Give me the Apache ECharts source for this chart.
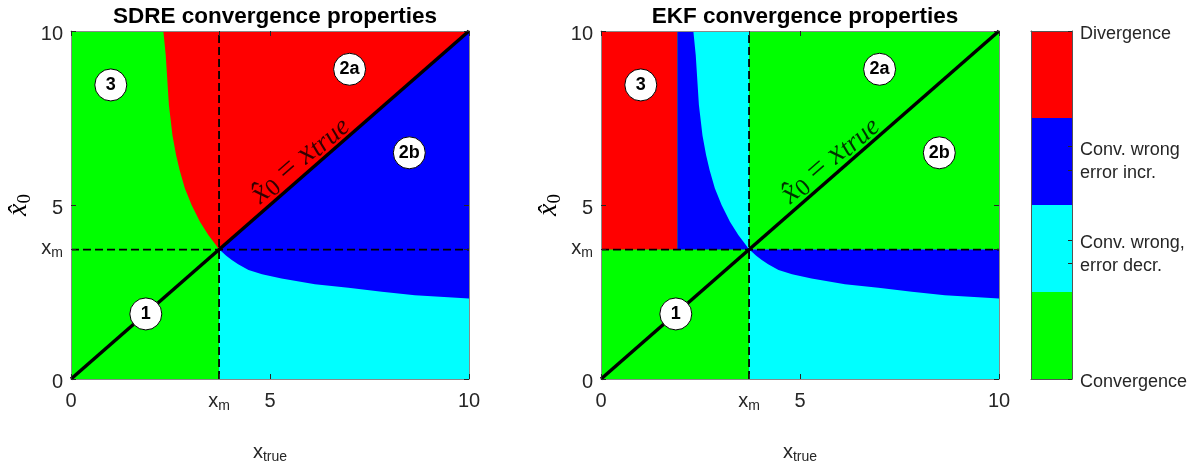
<!DOCTYPE html>
<html>
<head>
<meta charset="utf-8">
<script src="https://cdn.jsdelivr.net/npm/echarts@6/dist/echarts.min.js"></script>
<style>
  html, body { margin: 0; padding: 0; background: #ffffff; }
  #chart { width: 1197px; height: 463px; }
</style>
</head>
<body>
<div id="chart"></div>
<script>
// ---- data -------------------------------------------------------------
const X_M = 3.72;                       // x_m, where the regions meet
const AXIS_MIN = 0;
const AXIS_MAX = 10;
const TICKS = [0, X_M, 5, 10];

// lower boundary (x > x_m): "error incr." above, "error decr." below
const LOWER_X = [3.72, 3.79, 3.9, 4.04, 4.2, 4.46, 4.8, 5.29, 6.13, 6.97, 7.81, 8.64, 9.48, 10.0];
const LOWER_Y = [3.72, 3.66, 3.54, 3.42, 3.30, 3.13, 3.01, 2.89, 2.72, 2.62, 2.51, 2.41, 2.35, 2.31];

// upper boundary (y > x_m): SDRE divergence edge, EKF incr./decr. edge
const UPPER_Y = [3.72, 3.85, 4.14, 4.52, 5.0, 5.48, 6.0, 6.44, 7.0, 7.87, 9.31, 10.0];
const UPPER_X = [3.72, 3.64, 3.45, 3.24, 3.03, 2.86, 2.73, 2.64, 2.55, 2.46, 2.38, 2.32];

// EKF: left edge of the "error incr." band above x_m
const EKF_DIV_X = 1.92;

const TITLES = ['SDRE convergence properties', 'EKF convergence properties'];

// circled region numbers
const MARK_TEXT = ['1', '2a', '2b', '3'];
const MARK_X = [1.88, 7.0, 8.5, 1.0];
const MARK_Y = [1.87, 8.9, 6.5, 8.45];

// position of the diagonal's equation label
const EQ_X = 5.75;
const EQ_Y = 6.3;

// colour bar
const CB_COLORS = ['#00ff00', '#00ffff', '#0000ff', '#ff0000'];
const CB_TICKS = [0, 1.33, 1.6, 2.4, 2.67, 4];
const CB_LABELS = ['Convergence', 'error decr.', 'Conv. wrong,', 'error incr.', 'Conv. wrong', 'Divergence'];

// ---- region polygons ----------------------------------------------------
const GREEN = CB_COLORS[0], CYAN = CB_COLORS[1], BLUE = CB_COLORS[2], RED = CB_COLORS[3];
const lowerBranch = LOWER_X.map((x, i) => [x, LOWER_Y[i]]);
const upperBranch = UPPER_X.map((x, i) => [x, UPPER_Y[i]]);
const full = [[AXIS_MIN, AXIS_MIN], [AXIS_MAX, AXIS_MIN], [AXIS_MAX, AXIS_MAX], [AXIS_MIN, AXIS_MAX]];
const lowerRight = [[X_M, AXIS_MIN], [AXIS_MAX, AXIS_MIN], [AXIS_MAX, X_M], [X_M, X_M]];

const sdreRegions = [
  { color: GREEN, pts: full },
  { color: RED, pts: [...upperBranch, [AXIS_MAX, AXIS_MAX]] },
  { color: CYAN, pts: lowerRight },
  { color: BLUE, pts: [[X_M, X_M], [AXIS_MAX, AXIS_MAX], ...lowerBranch.slice().reverse()] }
];

const ekfRegions = [
  { color: GREEN, pts: full },
  { color: RED, pts: [[AXIS_MIN, X_M], [EKF_DIV_X, X_M], [EKF_DIV_X, AXIS_MAX], [AXIS_MIN, AXIS_MAX]] },
  { color: BLUE, pts: [[EKF_DIV_X, X_M], [X_M, X_M], [X_M, AXIS_MAX], [EKF_DIV_X, AXIS_MAX]] },
  { color: CYAN, pts: [...upperBranch, [X_M, AXIS_MAX]] },
  { color: CYAN, pts: lowerRight },
  { color: BLUE, pts: [[X_M, X_M], [AXIS_MAX, X_M], ...lowerBranch.slice().reverse()] }
];

// ---- styling helpers ----------------------------------------------------
const SANS = "'Liberation Sans', Arial, sans-serif";
const SERIF = "'Liberation Serif', 'DejaVu Serif', serif";
const INK = '#262626';
const FRAME = '#8a8a8a';

const tickRich = {
  x: { fontSize: 20, fontFamily: SANS, color: INK, lineHeight: 22, verticalAlign: 'top' },
  s: { fontSize: 14, fontFamily: SANS, color: INK, lineHeight: 14, padding: [15, 0, 0, 0], verticalAlign: 'bottom' },
  n: { fontSize: 20, fontFamily: SANS, color: INK, padding: [6, 0, 0, 0] }
};

function isXm(v) { return Math.abs(v - X_M) < 1e-6; }
function xTickFmt(v) { return isXm(v) ? '{x|x}{s|m}' : String(v); }
function yTickFmt(v) { return isXm(v) ? '{x|x}{s|m}' : '{n|' + v + '}'; }

function regionSeries(regions, axisIdx) {
  return {
    type: 'custom',
    xAxisIndex: axisIdx, yAxisIndex: axisIdx,
    silent: true, z: 1, clip: true,
    data: regions.map((r, i) => [i, 0]),
    renderItem(params, api) {
      const r = regions[params.dataIndex];
      return {
        type: 'polygon',
        shape: { points: r.pts.map(p => api.coord(p)) },
        style: { fill: r.color, stroke: null }
      };
    }
  };
}

function overlaySeries(axisIdx) {
  const dash = { color: '#000', width: 1.8, type: [8, 4] };
  return [
    { // dashed x = x_m
      type: 'line', xAxisIndex: axisIdx, yAxisIndex: axisIdx, silent: true, z: 3,
      data: [[X_M, AXIS_MIN], [X_M, AXIS_MAX]], symbol: 'none', lineStyle: dash
    },
    { // dashed y = x_m
      type: 'line', xAxisIndex: axisIdx, yAxisIndex: axisIdx, silent: true, z: 3,
      data: [[AXIS_MIN, X_M], [AXIS_MAX, X_M]], symbol: 'none', lineStyle: dash
    },
    { // diagonal
      type: 'line', xAxisIndex: axisIdx, yAxisIndex: axisIdx, silent: true, z: 4,
      data: [[AXIS_MIN, AXIS_MIN], [AXIS_MAX, AXIS_MAX]], symbol: 'none',
      lineStyle: { color: '#000', width: 3.5 }
    },
    { // equation along the diagonal
      type: 'scatter', xAxisIndex: axisIdx, yAxisIndex: axisIdx, silent: true, z: 5,
      data: [[EQ_X, EQ_Y]], symbolSize: 0,
      label: {
        show: true, position: 'inside', rotate: 41,
        formatter: '{v|x\u0302}{z|0}{e| = }{v|x}{t|true}',
        rich: {
          v: { fontFamily: SERIF, fontStyle: 'italic', fontSize: 32, color: '#000', lineHeight: 33, verticalAlign: 'top' },
          z: { fontFamily: SERIF, fontSize: 24, color: '#000', lineHeight: 24, padding: [13, 0, 0, 0], verticalAlign: 'bottom' },
          e: { fontFamily: SERIF, fontSize: 32, color: '#000', lineHeight: 33, verticalAlign: 'top' },
          t: { fontFamily: SERIF, fontStyle: 'italic', fontSize: 27, color: '#000', lineHeight: 27, padding: [10, 0, 0, 0], verticalAlign: 'bottom' }
        }
      }
    },
    { // circled region numbers
      type: 'scatter', xAxisIndex: axisIdx, yAxisIndex: axisIdx, silent: true, z: 6,
      data: MARK_X.map((x, i) => [x, MARK_Y[i], MARK_TEXT[i]]),
      symbol: 'circle', symbolSize: 32,
      itemStyle: { color: '#ffffff', borderColor: '#000000', borderWidth: 1, opacity: 1 },
      label: {
        show: true, position: 'inside', formatter: p => p.value[2],
        fontFamily: SANS, fontWeight: 'bold', fontSize: 18, color: '#000'
      }
    }
  ];
}

function mainXAxes(gi) {
  return [
    {
      gridIndex: gi, type: 'value', min: AXIS_MIN, max: AXIS_MAX, position: 'bottom', z: 8,
      axisLine: { show: true, onZero: false, lineStyle: { color: FRAME, width: 1 } },
      axisTick: { show: true, inside: true, length: 5, customValues: TICKS, lineStyle: { color: INK } },
      axisLabel: { customValues: TICKS, formatter: xTickFmt, rich: tickRich, margin: 12,
                   fontSize: 20, fontFamily: SANS, color: INK },
      splitLine: { show: false },
      name: '{x|x}{s|true}', nameLocation: 'middle', nameGap: 63,
      nameTextStyle: { rich: tickRich }
    },
    {
      gridIndex: gi, type: 'value', min: AXIS_MIN, max: AXIS_MAX, position: 'top', z: 8,
      axisLine: { show: true, onZero: false, lineStyle: { color: FRAME, width: 1 } },
      axisTick: { show: true, inside: true, length: 5, customValues: TICKS, lineStyle: { color: INK } },
      axisLabel: { show: false }, splitLine: { show: false }
    }
  ];
}

function mainYAxes(gi) {
  return [
    {
      gridIndex: gi, type: 'value', min: AXIS_MIN, max: AXIS_MAX, position: 'left', z: 8,
      axisLine: { show: true, onZero: false, lineStyle: { color: FRAME, width: 1 } },
      axisTick: { show: true, inside: true, length: 5, customValues: TICKS, lineStyle: { color: INK } },
      axisLabel: { customValues: TICKS, formatter: yTickFmt, rich: tickRich, margin: 8,
                   fontSize: 20, fontFamily: SANS, color: INK },
      splitLine: { show: false },
      name: '{h|x\u0302}{z|0}', nameLocation: 'middle', nameGap: 36, nameRotate: 90,
      nameTextStyle: {
        rich: {
          h: { fontFamily: SERIF, fontStyle: 'italic', fontSize: 28, color: '#000', lineHeight: 30, verticalAlign: 'top' },
          z: { fontFamily: SERIF, fontSize: 19, color: '#000', lineHeight: 19, padding: [13, 0, 0, 0], verticalAlign: 'bottom' }
        }
      }
    },
    {
      gridIndex: gi, type: 'value', min: AXIS_MIN, max: AXIS_MAX, position: 'right', z: 8,
      axisLine: { show: true, onZero: false, lineStyle: { color: FRAME, width: 1 } },
      axisTick: { show: true, inside: true, length: 5, customValues: TICKS, lineStyle: { color: INK } },
      axisLabel: { show: false }, splitLine: { show: false }
    }
  ];
}

function cbLabel(v) {
  let best = 0;
  CB_TICKS.forEach((t, i) => { if (Math.abs(t - v) < Math.abs(CB_TICKS[best] - v)) best = i; });
  return '{c|' + CB_LABELS[best] + '}';
}

const cbLine = { show: true, onZero: false, lineStyle: { color: '#555555', width: 1 } };

const option = {
  backgroundColor: '#ffffff',
  animation: false,
  title: TITLES.map((t, i) => ({
    text: t, left: i === 0 ? 270 : 800, top: 0, textAlign: 'center',
    textStyle: { fontFamily: SANS, fontWeight: 'bold', fontSize: 22.5, color: '#000' }
  })),
  grid: [
    { left: 71, top: 31, width: 398, height: 348, outerBoundsMode: 'none', containLabel: false },
    { left: 601, top: 31, width: 398, height: 348, outerBoundsMode: 'none', containLabel: false },
    { left: 1031, top: 31, width: 41, height: 348, outerBoundsMode: 'none', containLabel: false }
  ],
  xAxis: [
    ...mainXAxes(0), ...mainXAxes(1),
    { gridIndex: 2, type: 'value', min: 0, max: 1, position: 'bottom', z: 8, axisLine: cbLine,
      axisTick: { show: false }, axisLabel: { show: false }, splitLine: { show: false } },
    { gridIndex: 2, type: 'value', min: 0, max: 1, position: 'top', z: 8, axisLine: cbLine,
      axisTick: { show: false }, axisLabel: { show: false }, splitLine: { show: false } }
  ],
  yAxis: [
    ...mainYAxes(0), ...mainYAxes(1),
    { gridIndex: 2, type: 'value', min: 0, max: 4, position: 'left', z: 8, axisLine: cbLine,
      axisTick: { show: false }, axisLabel: { show: false }, splitLine: { show: false } },
    { gridIndex: 2, type: 'value', min: 0, max: 4, position: 'right', z: 8, axisLine: cbLine,
      axisTick: { show: true, inside: true, length: 4, customValues: CB_TICKS, lineStyle: { color: INK } },
      axisLabel: { customValues: CB_TICKS, formatter: cbLabel, margin: 8,
                   rich: { c: { fontSize: 18, fontFamily: SANS, color: INK, padding: [6, 0, 0, 0] } },
                   fontSize: 18, fontFamily: SANS, color: INK },
      splitLine: { show: false } }
  ],
  series: [
    regionSeries(sdreRegions, 0),
    ...overlaySeries(0),
    { ...regionSeries(ekfRegions, 0), xAxisIndex: 2, yAxisIndex: 2 },
    ...overlaySeries(0).map(s => ({ ...s, xAxisIndex: 2, yAxisIndex: 2 })),
    { // colour bar blocks
      type: 'custom', xAxisIndex: 4, yAxisIndex: 4, silent: true, z: 1,
      data: CB_COLORS.map((c, i) => [0, i]),
      renderItem(params, api) {
        const i = params.dataIndex;
        const p0 = api.coord([0, i]);
        const p1 = api.coord([1, i + 1]);
        return {
          type: 'rect',
          shape: { x: p0[0], y: p1[1], width: p1[0] - p0[0], height: p0[1] - p1[1] },
          style: { fill: CB_COLORS[i] }
        };
      }
    }
  ]
};

const chart = echarts.init(document.getElementById('chart'), null, { renderer: 'canvas' });
chart.setOption(option);
</script>
</body>
</html>
